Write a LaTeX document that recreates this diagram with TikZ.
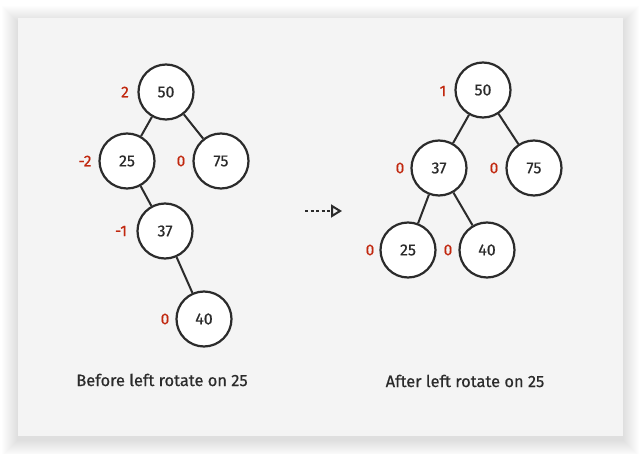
\documentclass[tikz,border=0pt]{standalone}
\usepackage{fontspec}
\setmainfont{Fira Sans}[FakeBold=0.5]
\usetikzlibrary{arrows.meta}
\definecolor{panel}{HTML}{F4F4F4}
\definecolor{ink}{HTML}{2B2B2B}
\definecolor{bf}{HTML}{C1270E}
\tikzset{
  tn/.style={circle, draw=ink, line width=2.2pt, fill=white, minimum size=55pt, inner sep=0pt, font=\fontsize{16}{18}\selectfont\color{ink}},
  bal/.style={font=\fontsize{15.5}{17}\selectfont, text=bf},
  edge/.style={draw=ink, line width=2pt},
  captext/.style={font=\fontsize{16.4}{18}\selectfont, text=ink}
}
\begin{document}
\begin{tikzpicture}[x=1pt,y=-1pt]
\useasboundingbox (0,0) rectangle (641,454);
\fill[white] (0,0) rectangle (641,454);
% shadow
\foreach \i in {1,...,16}{
  \fill[black, opacity=0.008] ({18-\i},{18-\i+4}) rectangle ({623+\i},{436+\i+4});
}
\fill[panel] (18,18) rectangle (623,436);
% left tree
\node[tn] (a50) at (166,92) {50};
\node[tn] (a25) at (127,161) {25};
\node[tn] (a75) at (221,161) {75};
\node[tn] (a37) at (165,231) {37};
\node[tn] (a40) at (204,319) {40};
\draw[edge] (a50) -- (a25);
\draw[edge] (a50) -- (a75);
\draw[edge] (a25) -- (a37);
\draw[edge] (a37) -- (a40);
\node[bal] (la50) at (125,92) {2};
\node[bal] (la25) at (85,161) {-2};
\node[bal] (la75) at (181,161) {0};
\node[bal] (la37) at (121,231) {-1};
\node[bal] (la40) at (165,319) {0};
% right tree
\node[tn] (b50) at (483,90) {50};
\node[tn] (b37) at (439,168) {37};
\node[tn] (b75) at (534,168) {75};
\node[tn] (b25) at (408,250) {25};
\node[tn] (b40) at (487,250) {40};
\draw[edge] (b50) -- (b37);
\draw[edge] (b50) -- (b75);
\draw[edge] (b37) -- (b25);
\draw[edge] (b37) -- (b40);
\node[bal] (lb50) at (443,91) {1};
\node[bal] (lb37) at (400,168) {0};
\node[bal] (lb75) at (494,168) {0};
\node[bal] (lb25) at (370,250) {0};
\node[bal] (lb40) at (448,250) {0};
% arrow
\coordinate (s) at (305,211);
\coordinate (e) at (342,211);
\draw[ink, line width=2pt, dash pattern=on 3pt off 2.5pt, -{Triangle[open, length=11pt, width=13pt, line width=2pt]}] (s) -- (e);
% captions
\node[captext] (c1) at (162,380) {Before left rotate on 25};
\node[captext] (c2) at (465,381) {After left rotate on 25};
\end{tikzpicture}
\end{document}
